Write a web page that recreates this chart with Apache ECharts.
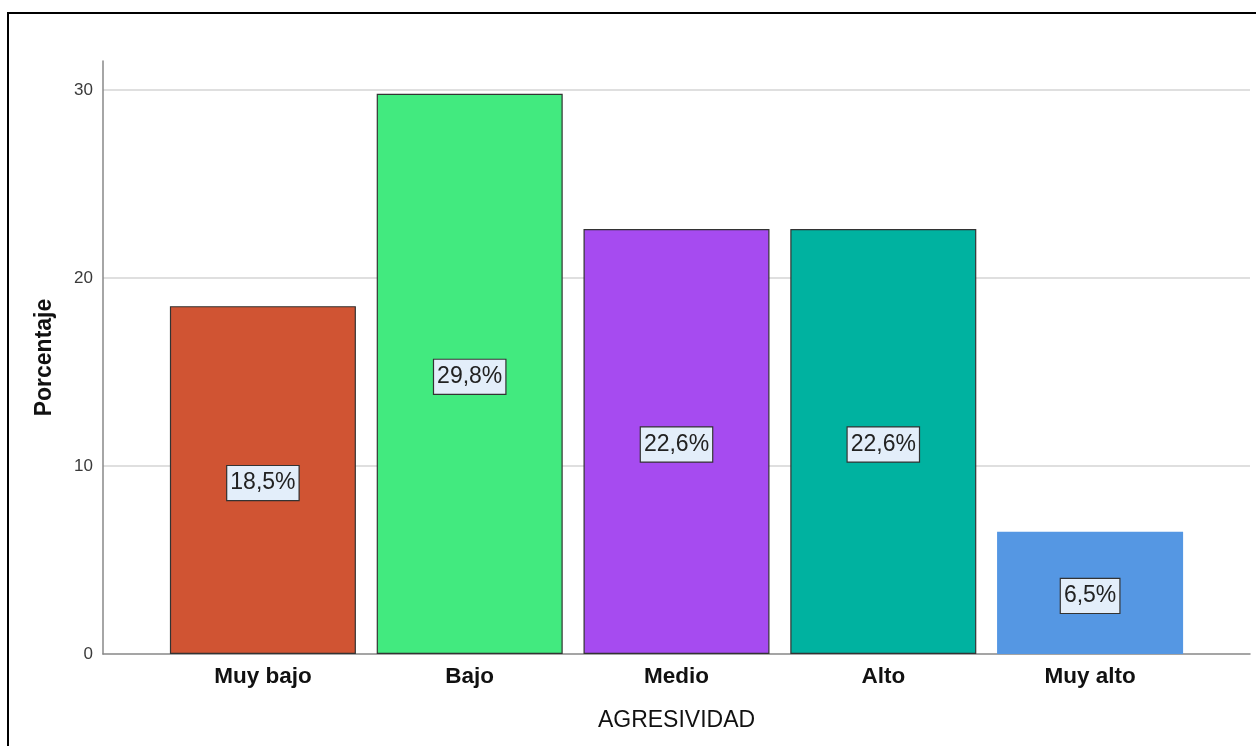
<!DOCTYPE html>
<html>
<head>
<meta charset="utf-8">
<script src="https://cdn.jsdelivr.net/npm/echarts@6/dist/echarts.min.js"></script>
<style>
  html, body { margin: 0; padding: 0; background: #ffffff; }
  #chart { width: 1256px; height: 746px; }
</style>
</head>
<body>
<div id="chart"></div>
<script>
const categories = ['Muy bajo', 'Bajo', 'Medio', 'Alto', 'Muy alto'];
const percentages = [18.5, 29.8, 22.6, 22.6, 6.5];
const yTicks = [0, 10, 20, 30];
const xTitle = 'AGRESIVIDAD';
const yTitle = 'Porcentaje';

const palette = ['#d05433', '#42ea7f', '#a64bf0', '#00b2a0', '#5597e3'];
const borders = ['#333333', '#333333', '#333333', '#333333', '#5597e3'];
const FONT = '"Liberation Sans", Arial, sans-serif';
const YMAX = 31.54;

const chart = echarts.init(document.getElementById('chart'), null, { renderer: 'canvas' });

chart.setOption({
  animation: false,
  backgroundColor: '#ffffff',
  graphic: [{
    type: 'rect',
    shape: { x: 8, y: 13, width: 1300, height: 800 },
    style: { fill: 'none', stroke: '#000000', lineWidth: 2 },
    z: 100
  }],
  grid: [
    { left: 103, right: 6, top: 61, bottom: 92 },
    { left: 159.5, right: 62.5, top: 61, bottom: 92 }
  ],
  xAxis: [
    {
      gridIndex: 0, type: 'value', min: 0, max: 1,
      axisLine: { show: true, lineStyle: { color: '#888888', width: 1.5 } },
      axisTick: { show: false }, axisLabel: { show: false }, splitLine: { show: false },
      name: xTitle, nameLocation: 'middle', nameGap: 55,
      nameTextStyle: { fontFamily: FONT, fontSize: 23, color: '#111111' }
    },
    {
      gridIndex: 1, type: 'category', data: categories,
      axisLine: { show: false }, axisTick: { show: false },
      axisLabel: { fontFamily: FONT, fontSize: 22.5, fontWeight: 'bold', color: '#111111', margin: 11 }
    }
  ],
  yAxis: [
    {
      gridIndex: 0, type: 'value', min: 0, max: YMAX, interval: 10,
      axisLine: { show: true, lineStyle: { color: '#888888', width: 1.5 } },
      axisTick: { show: false },
      axisLabel: {
        fontFamily: FONT, fontSize: 17, color: '#3a3a3a', margin: 10,
        showMaxLabel: false,
        formatter: v => (yTicks.indexOf(v) >= 0 ? String(v) : '')
      },
      splitLine: { show: true, showMaxLine: false, showMinLine: false, lineStyle: { color: '#d4d4d4', width: 1.5 } },
      name: yTitle, nameLocation: 'middle', nameGap: 47, nameRotate: 90,
      nameTextStyle: { fontFamily: FONT, fontSize: 23, fontWeight: 'bold', color: '#111111' }
    },
    {
      gridIndex: 1, type: 'value', min: 0, max: YMAX, interval: 10,
      show: false, splitLine: { show: false }
    }
  ],
  series: [{
    type: 'bar',
    xAxisIndex: 1, yAxisIndex: 1,
    barWidth: 186,
    data: percentages.map((v, i) => ({
      value: v,
      itemStyle: { color: palette[i], borderColor: borders[i], borderWidth: 1.2 }
    })),
    label: {
      show: true, position: 'inside', offset: [0, 3],
      formatter: p => p.value.toFixed(1).replace('.', ',') + '%',
      fontFamily: FONT, fontSize: 23, lineHeight: 23, color: '#222222',
      backgroundColor: '#e3eefa', borderColor: '#333333', borderWidth: 1.2,
      padding: [6, 3, 5, 3]
    }
  }]
});
</script>
</body>
</html>
